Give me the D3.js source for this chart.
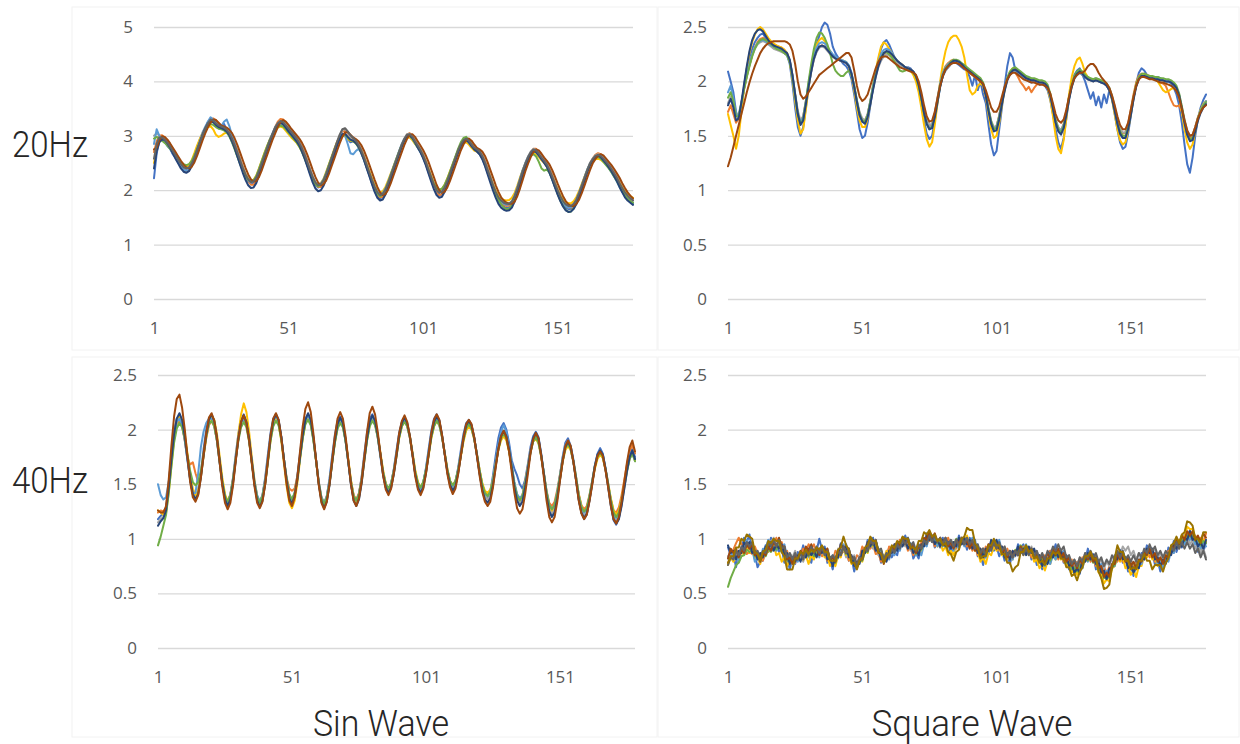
<!DOCTYPE html>
<html>
<head>
<meta charset="utf-8">
<script src="https://cdn.jsdelivr.net/npm/d3@7"></script>
<style>
  body { margin: 0; background: #fff; }
</style>
</head>
<body>
<div id="chart"></div>
<script>
// category axis runs 1..179 (one value per sample)
const N_POINTS = 179;
const xTicks = [1, 51, 101, 151];
const yTicksSin20 = [0, 1, 2, 3, 4, 5];
const yTicksHalf = [0, 0.5, 1, 1.5, 2, 2.5];
const rowLabels = ['20Hz', '40Hz'];
const colLabels = ['Sin Wave', 'Square Wave'];
// Excel default series colours, in series order
const colors = ['#4472C4', '#ED7D31', '#A5A5A5', '#FFC000', '#5B9BD5',
                '#70AD47', '#264478', '#9E480E', '#636363', '#997300'];

// readings, stored in hundredths (262 -> 2.62)
const sin20 = [
  [222,268,291,299,290,281,276,266,259,252, 243,238,236,238,246,259,272,288,301,312,
   325,331,328,320,314,318,322,312,300,289, 278,263,250,236,224,216,212,214,220,232,
   246,259,273,287,300,311,319,323,322,315, 309,302,297,291,283,272,260,246,232,219,
   209,205,207,214,226,240,255,269,284,296, 303,302,294,288,290,287,279,268,256,242,
   228,213,199,189,185,188,197,210,224,238, 252,266,280,292,300,301,295,286,278,270,
   260,248,233,219,205,195,190,193,202,214, 228,242,256,270,282,290,292,287,280,274,
   271,266,258,246,232,218,204,192,181,175, 170,167,169,175,186,201,217,233,247,259,
   268,273,271,265,258,251,243,232,220,207, 195,184,175,168,165,166,171,180,192,206,
   220,234,246,255,261,263,260,255,248,242, 235,227,219,209,200,192,186,180,176],
  [270,290,300,301,297,291,283,274,264,255, 246,240,236,238,245,256,270,285,299,312,
   322,330,332,329,323,318,312,310,306,297, 286,273,258,243,229,217,210,210,216,228,
   243,258,273,288,302,316,326,331,330,324, 316,308,302,296,289,280,268,253,238,223,
   212,206,206,213,225,240,255,270,285,298, 307,310,305,298,294,290,284,275,263,249,
   234,219,205,193,187,188,196,208,222,237, 252,266,280,292,302,305,300,292,283,275,
   266,254,240,225,210,198,191,192,199,211, 226,241,256,270,282,291,296,294,287,280,
   277,273,266,254,240,225,210,197,186,178, 173,171,172,176,185,199,215,231,246,259,
   269,276,276,270,262,256,249,240,228,214, 201,189,179,172,168,168,172,180,192,206,
   221,236,249,258,265,268,266,261,254,248, 241,234,226,216,206,197,190,185,182],
  [300,305,300,294,289,284,277,270,263,255, 248,243,241,244,252,265,279,293,306,316,
   324,329,328,325,320,317,315,311,305,296, 284,270,256,242,230,221,216,217,224,236,
   250,264,278,292,304,316,323,327,325,320, 314,308,302,296,288,278,266,252,238,225,
   215,210,212,219,231,245,259,273,287,300, 310,313,305,298,295,291,284,274,262,248,
   234,220,207,197,192,194,202,214,228,242, 256,270,284,295,303,304,299,291,283,275,
   265,253,239,225,211,201,196,198,206,218, 232,246,260,274,285,293,296,292,285,279,
   276,272,264,252,238,224,210,198,188,182, 178,176,176,180,190,204,220,236,250,262,
   271,276,274,268,261,255,248,238,226,213, 201,190,181,175,172,172,176,184,196,210,
   224,238,250,258,264,266,264,259,253,247, 240,232,224,214,205,197,191,186,182],
  [250,276,290,292,289,284,277,270,263,256, 249,245,243,246,255,268,282,294,304,312,
   316,318,312,302,298,300,304,306,302,293, 281,267,253,240,229,221,217,219,227,240,
   254,268,281,293,302,310,315,317,315,309, 303,297,292,287,280,271,260,247,234,222,
   213,210,213,221,234,248,262,276,289,297, 300,299,294,291,290,287,281,272,261,248,
   235,222,210,200,196,198,206,218,231,244, 257,270,282,291,297,297,292,285,279,272,
   263,252,239,226,213,204,200,202,210,222, 235,248,261,273,282,287,288,284,278,273,
   271,267,260,249,236,223,210,199,190,185, 182,181,182,186,195,208,223,237,249,258,
   265,268,266,261,255,250,244,235,224,212, 201,191,183,178,176,176,180,188,199,212,
   225,237,247,253,257,258,256,252,247,242, 236,229,222,213,205,198,193,189,186],
  [285,312,300,292,288,282,276,268,260,252, 244,238,236,239,248,261,275,290,304,316,
   326,334,330,322,316,318,326,330,318,300, 284,268,253,239,227,218,214,216,224,237,
   251,265,279,292,304,315,322,325,322,316, 310,304,298,292,284,274,262,248,235,222,
   213,209,212,220,232,246,260,274,287,298, 304,300,285,268,266,272,276,270,259,245,
   231,218,206,197,193,195,203,215,229,243, 257,271,284,294,300,300,295,287,279,271,
   262,250,236,222,209,200,196,198,206,218, 232,246,260,273,283,290,292,288,281,276,
   273,269,261,249,235,221,207,195,185,179, 175,173,174,179,190,205,221,237,250,261,
   269,273,270,264,257,251,244,234,222,209, 197,186,177,171,168,169,174,183,196,210,
   224,238,249,256,261,262,259,254,248,241, 233,225,216,206,197,189,183,179,176],
  [295,298,294,291,287,282,276,270,264,258, 252,248,246,248,254,264,276,288,300,310,
   318,322,320,316,313,312,310,306,299,288, 275,261,248,236,226,219,216,218,226,239,
   253,267,280,292,302,310,316,319,317,312, 306,300,294,288,280,270,258,245,232,220,
   211,207,210,218,231,246,260,273,285,295, 301,302,297,292,290,286,279,269,257,243,
   229,215,202,193,189,192,201,214,228,242, 256,269,282,292,299,300,295,287,279,271,
   261,249,236,223,212,204,201,203,210,221, 234,248,262,276,288,296,298,292,283,276,
   272,268,260,248,234,220,206,193,182,174, 168,165,166,172,184,199,216,232,246,257,
   264,266,262,252,240,236,238,232,220,206, 193,181,171,164,160,161,167,177,190,205,
   220,235,247,255,260,261,258,252,246,240, 233,225,217,207,198,190,184,180,177],
  [240,272,288,294,292,286,278,268,258,249, 240,234,232,235,244,257,272,287,301,313,
   322,327,325,320,316,314,312,308,301,290, 277,262,247,232,219,209,204,205,213,227,
   243,258,273,288,301,313,321,324,321,315, 308,302,296,290,282,271,258,243,228,214,
   203,198,200,208,221,236,251,266,281,294, 303,304,298,293,291,287,280,269,256,241,
   226,211,197,186,181,183,192,205,220,235, 250,265,279,291,300,301,296,288,279,270,
   259,246,231,216,202,191,186,188,197,210, 225,240,255,269,281,289,292,288,281,275,
   271,266,257,244,229,214,199,186,175,168, 164,162,163,168,179,194,211,228,243,256,
   266,272,270,264,257,250,243,232,219,205, 192,180,170,163,160,161,166,175,188,203,
   218,233,246,255,261,263,261,255,249,242, 235,226,217,206,196,187,181,177,173],
  [275,278,292,299,298,293,286,278,270,262, 254,247,242,240,243,251,263,277,291,304,
   315,324,330,329,324,319,317,315,311,305, 295,283,269,255,241,229,220,216,217,224,
   236,250,264,278,292,304,316,325,329,326, 320,313,307,301,295,287,277,265,251,237,
   224,214,209,211,218,230,244,258,272,286, 298,306,307,302,297,294,290,283,273,261,
   247,233,219,206,196,191,193,201,213,227, 241,255,269,283,294,302,303,298,290,282,
   274,264,252,238,224,210,200,195,197,205, 217,231,245,259,273,284,292,295,291,284,
   278,275,271,263,251,237,223,209,197,187, 181,177,175,175,179,189,203,219,235,249,
   261,270,275,273,267,260,254,247,237,225, 212,200,189,180,174,171,171,175,183,195,
   209,223,237,249,257,263,266,264,258,252, 246,239,231,223,213,204,196,190,185],
  [258,285,297,297,293,287,280,272,264,256, 248,242,240,242,249,260,274,288,301,313,
   323,330,328,323,319,317,315,311,305,295, 283,269,255,241,229,220,215,216,223,235,
   249,263,277,291,303,315,323,327,325,319, 313,307,301,295,287,277,265,251,237,224,
   214,209,211,218,230,244,259,274,289,302, 312,314,308,301,296,291,283,273,261,247,
   233,219,206,196,191,193,201,213,227,241, 255,269,283,294,302,303,298,290,282,274,
   264,252,238,224,210,200,195,197,205,217, 231,245,259,273,284,292,295,291,284,278,
   275,271,263,251,237,223,209,197,187,181, 177,175,175,179,189,203,219,235,249,261,
   270,275,273,267,260,254,247,237,225,212, 200,189,180,174,171,171,175,183,195,209,
   223,237,249,257,263,265,263,258,252,246, 239,231,223,213,204,196,190,185,181]
];

const square20 = [
  [209,200,190,172,165,176,196,212,222,230, 236,240,243,244,240,236,233,231,230,229,
   228,226,224,216,198,176,158,150,158,176, 194,210,224,234,242,250,254,252,244,232,
   226,222,219,216,214,210,202,188,172,156, 148,150,162,178,194,208,220,230,236,238,
   234,228,222,218,216,214,212,213,212,208, 203,194,180,164,152,147,150,164,180,195,
   205,210,213,216,218,217,215,213,211,210, 204,196,206,192,200,188,180,160,142,132,
   136,156,176,196,214,226,222,210,206,205, 204,202,200,199,200,198,197,198,196,192,
   183,170,156,144,138,148,166,184,197,206, 210,212,206,200,192,184,190,178,186,176,
   188,180,192,184,170,156,144,138,140,152, 168,184,198,208,212,210,206,203,204,203,
   204,203,201,200,200,198,194,188,178,162, 142,124,116,130,150,166,176,183,188],
  [172,178,170,162,166,179,193,205,215,224, 231,236,239,240,238,236,235,234,233,232,
   231,229,226,219,205,188,171,163,168,182, 197,210,221,228,232,233,232,229,226,223,
   221,220,219,218,217,214,206,194,181,170, 165,164,170,182,195,206,215,221,225,227,
   226,224,221,219,217,215,213,212,211,209, 205,197,185,172,163,159,161,171,185,198,
   208,214,217,219,220,219,217,215,212,210, 208,206,204,202,200,196,186,173,162,157,
   159,169,182,193,202,207,209,208,204,199, 196,192,195,190,194,197,199,200,198,195,
   187,176,164,157,155,161,173,186,197,204, 207,208,206,204,202,201,200,201,200,199,
   198,196,192,185,175,164,156,152,153,161, 174,188,199,205,207,207,206,205,204,202,
   201,199,198,196,190,183,178,177,178,172, 162,153,148,150,158,167,173,177,179],
  [180,186,180,170,170,181,194,205,215,224, 230,234,236,237,236,234,232,230,229,228,
   227,226,224,219,206,189,173,164,168,181, 196,209,220,227,231,232,231,228,225,223,
   221,220,219,218,217,214,207,196,183,172, 166,164,170,181,193,204,213,219,223,225,
   224,222,220,217,215,214,213,212,211,209, 205,198,187,174,165,160,161,170,183,196,
   205,210,213,216,218,218,217,215,213,211, 209,207,205,203,201,197,188,175,164,158,
   159,168,181,192,201,206,209,210,208,206, 204,203,202,201,201,200,199,199,198,195,
   188,177,165,158,155,160,171,184,195,203, 207,209,207,205,203,202,202,203,202,201,
   200,198,194,187,177,166,157,153,153,160, 172,185,196,202,205,205,204,203,203,202,
   202,201,201,200,200,199,197,194,188,177, 165,155,150,151,158,167,173,177,180],
  [170,160,150,138,150,172,194,212,226,236, 243,248,250,248,244,240,237,235,233,232,
   231,229,226,218,202,182,164,152,156,174, 194,212,226,234,238,240,237,232,228,224,
   222,221,220,219,218,214,206,192,176,164, 158,158,166,180,196,210,222,232,236,234,
   230,226,222,219,217,215,213,212,210,206, 200,190,176,160,147,140,144,160,180,200,
   216,228,236,240,242,242,238,232,222,206, 192,188,190,196,198,196,186,170,156,148,
   150,162,178,192,203,209,212,212,210,208, 206,204,203,202,202,201,200,200,198,194,
   184,168,150,138,134,146,166,188,204,214, 220,222,216,208,204,202,201,202,201,200,
   199,197,192,183,170,156,146,142,144,155, 170,185,197,204,206,206,205,204,204,202,
   200,196,192,190,191,193,194,192,186,172, 156,144,138,142,154,166,174,179,182],
  [190,196,184,170,168,180,194,206,216,225, 231,235,237,238,237,235,233,232,231,230,
   229,227,225,219,205,187,170,162,167,182, 198,212,224,231,235,236,235,232,228,225,
   223,221,220,219,218,215,208,195,181,169, 163,162,169,182,196,208,218,225,229,230,
   229,226,222,219,217,215,213,212,211,209, 205,197,185,171,161,157,159,170,184,198,
   208,213,216,218,219,219,218,216,214,212, 210,208,206,204,202,198,188,174,162,156,
   158,168,182,194,203,208,210,210,208,206, 204,203,202,201,201,200,199,199,198,195,
   187,175,163,156,154,160,172,185,196,203, 206,208,206,204,202,201,200,201,200,199,
   198,196,192,184,173,161,152,148,149,158, 171,185,196,203,205,205,204,203,203,202,
   202,201,201,200,200,199,197,194,187,175, 162,151,146,148,156,166,173,178,182],
  [185,190,182,168,168,180,193,204,214,223, 230,235,238,239,238,236,234,232,230,229,
   228,226,224,218,204,187,170,161,165,181, 200,216,230,240,245,244,240,234,226,216,
   210,207,205,205,208,210,206,196,182,170, 164,163,169,181,194,206,216,222,226,227,
   225,222,218,214,210,209,210,211,210,208, 204,196,184,171,161,156,158,168,182,196,
   206,212,215,218,220,220,219,217,215,213, 211,209,207,205,203,199,189,175,163,156,
   157,167,181,193,203,209,212,213,211,209, 207,205,204,203,203,202,201,201,200,197,
   189,177,164,156,153,159,171,185,197,205, 209,211,209,206,204,203,202,203,202,201,
   200,198,194,186,175,163,154,150,150,158, 171,185,197,204,207,207,206,205,205,204,
   204,203,203,202,202,201,199,196,189,177, 164,153,147,148,156,166,173,178,181],
  [178,184,176,164,166,181,198,214,228,238, 244,247,248,246,242,238,235,233,232,231,
   230,228,226,220,206,188,170,160,164,179, 195,209,221,228,232,233,232,229,226,223,
   221,220,219,218,217,214,207,195,181,169, 163,161,167,179,192,204,214,221,226,228,
   227,225,222,219,217,215,213,212,211,209, 205,197,185,171,161,156,157,167,181,195,
   205,211,214,217,219,219,218,216,213,211, 209,207,205,203,201,197,187,173,161,154,
   155,165,179,191,201,207,210,211,209,207, 205,203,202,201,201,200,199,199,198,195,
   187,175,162,154,151,157,169,183,195,203, 207,209,207,204,202,201,200,201,200,199,
   198,196,192,184,173,161,152,148,148,156, 169,183,195,202,205,205,204,203,203,202,
   202,201,201,200,200,199,197,194,187,175, 162,151,145,146,154,164,171,176,179],
  [122,130,140,150,160,170,180,190,199,207, 214,220,226,230,233,235,236,237,237,237,
   237,237,236,234,228,216,200,188,184,186, 190,194,198,202,206,208,210,212,214,216,
   218,220,222,224,226,226,222,210,196,186, 182,184,188,196,204,212,218,222,223,223,
   221,219,217,215,213,212,211,210,209,208, 206,200,190,178,168,163,164,172,184,196,
   205,211,214,216,217,217,216,214,212,210, 208,206,204,202,200,198,192,184,176,172,
   172,177,186,195,202,206,208,208,206,204, 202,201,200,199,199,198,197,197,196,194,
   189,180,170,164,162,165,174,186,196,203, 206,208,208,210,214,216,216,213,208,204,
   201,198,194,187,178,168,160,156,156,162, 174,186,196,202,204,204,203,202,202,201,
   200,199,199,198,197,196,194,191,185,175, 164,155,150,151,158,166,172,176,178]
];

const sin40 = [
  [118,121,123,128,150,176,198,210,212,205, 190,172,154,141,137,144,160,182,200,210,
   212,205,190,170,150,137,132,140,156,177, 196,209,214,207,191,170,150,137,132,140,
   156,177,197,210,214,208,193,172,153,139, 134,142,158,178,197,210,214,207,191,171,
   150,136,131,139,155,176,195,208,212,205, 190,170,150,137,133,141,157,178,197,210,
   214,207,193,175,158,147,143,150,164,181, 197,207,211,205,193,176,159,148,144,151,
   165,182,199,210,214,208,194,177,161,150, 146,152,165,181,196,206,209,204,192,176,
   160,146,138,137,143,158,176,192,202,206, 200,188,172,164,158,150,146,154,168,184,
   194,198,193,178,160,141,127,122,127,141, 158,175,188,192,185,171,154,136,124,118,
   122,135,151,167,178,183,178,164,147,130, 117,113,119,133,150,166,177,182,175],
  [124,126,125,128,146,170,192,205,208,203, 190,174,168,170,160,152,160,176,192,204,
   208,203,190,171,152,139,134,141,155,174, 192,205,210,204,190,171,152,139,134,140,
   154,173,192,205,210,205,192,173,156,146, 144,146,157,175,193,206,211,205,191,172,
   152,138,133,139,152,171,189,202,207,203, 190,172,153,140,136,142,156,175,193,205,
   210,205,193,177,161,150,146,151,163,178, 194,204,208,203,192,177,161,151,147,152,
   163,178,194,204,208,204,193,178,163,153, 149,153,163,177,191,201,205,201,192,178,
   163,150,142,140,144,154,169,183,193,197, 192,181,166,150,140,136,140,152,166,181,
   191,194,189,176,160,144,133,130,134,145, 159,173,184,187,182,171,156,141,131,127,
   130,140,153,166,175,178,174,163,149,136, 126,124,129,140,154,168,180,186,178],
  [115,118,120,125,146,172,195,209,213,207, 193,174,155,142,138,144,158,177,195,208,
   212,206,192,172,152,138,132,138,152,172, 191,205,211,205,191,171,151,137,131,137,
   151,171,192,206,212,207,193,173,154,139, 134,140,154,174,193,207,213,207,192,172,
   151,136,130,136,150,170,189,203,209,204, 190,171,151,137,132,138,152,172,191,205,
   211,206,194,177,160,148,143,148,160,176, 193,204,209,204,193,177,160,149,144,149,
   161,177,194,205,210,206,194,178,162,151, 146,150,161,176,191,202,206,202,192,177,
   161,147,139,136,140,151,167,182,193,197, 192,181,165,148,137,132,136,148,163,179,
   190,194,189,176,159,141,128,123,127,139, 155,171,183,187,182,170,154,137,126,121,
   125,136,150,165,175,179,175,163,148,132, 120,116,120,131,146,161,173,179,171],
  [126,124,122,124,142,167,191,206,212,208, 196,178,160,146,140,144,157,175,193,207,
   213,209,196,176,156,141,134,139,153,174, 196,214,224,216,198,175,154,139,132,137,
   150,169,190,204,210,205,190,169,148,133, 128,135,151,172,192,206,212,206,191,171,
   151,136,130,136,150,169,188,202,208,204, 191,173,154,140,134,139,152,171,190,204,
   210,206,195,179,163,151,145,149,160,175, 192,203,208,204,194,179,163,152,147,151,
   161,176,192,203,208,205,194,179,164,153, 148,151,161,175,189,199,203,200,191,177,
   163,151,144,142,145,154,168,181,190,194, 190,180,165,150,140,136,140,151,165,180,
   189,192,187,175,159,142,130,126,130,141, 155,170,181,185,181,171,157,141,130,125,
   128,138,151,164,173,177,174,164,151,137, 126,122,126,136,150,163,174,179,172],
  [150,140,136,138,152,174,195,207,210,204, 191,172,154,142,142,160,184,198,206,210,
   210,204,190,170,151,138,133,140,154,174, 193,206,211,205,191,172,153,140,134,140,
   154,174,194,208,213,207,193,173,154,140, 136,142,156,176,195,208,213,207,192,172,
   152,138,133,139,153,173,192,205,210,204, 190,171,152,139,135,141,155,175,194,207,
   212,206,194,177,161,150,146,151,163,179, 196,206,210,204,193,177,160,150,146,152,
   164,180,197,207,211,206,194,178,162,152, 148,152,163,178,193,203,206,202,192,177,
   161,148,141,139,143,154,170,186,198,204, 198,185,168,152,141,137,140,151,165,180,
   190,194,189,176,160,143,131,127,131,143, 158,174,186,190,185,173,157,140,129,124,
   127,138,152,167,177,181,177,165,150,134, 122,119,123,134,149,164,176,181,173],
  [94,102,112,122,142,166,188,201,206,202, 192,176,162,152,149,152,162,178,194,205,
   208,203,190,171,152,139,134,140,154,173, 190,202,207,202,189,170,151,138,133,139,
   152,171,190,203,208,204,191,173,155,141, 136,142,155,174,192,205,209,204,190,171,
   151,137,132,138,151,170,188,201,206,202, 189,171,152,139,135,141,154,173,190,203,
   208,204,193,177,161,150,146,151,162,177, 193,203,207,203,193,177,161,151,147,152,
   163,178,193,203,208,204,193,178,163,153, 149,153,163,177,191,201,205,201,192,178,
   163,150,142,139,143,153,168,182,192,196, 192,181,166,150,139,135,139,150,164,179,
   189,193,188,176,160,143,131,127,131,142, 157,172,183,187,182,171,156,140,129,125,
   128,139,152,166,175,179,175,164,150,135, 124,120,124,134,148,162,173,178,171],
  [112,116,119,126,147,173,196,210,215,209, 194,174,155,141,136,141,156,176,195,209,
   214,208,193,172,151,136,130,136,151,172, 192,207,213,207,192,171,150,135,129,135,
   150,171,193,208,214,209,194,173,153,137, 132,139,154,175,195,209,215,209,193,172,
   150,134,128,134,149,170,190,205,211,206, 191,171,150,135,130,136,151,172,192,207,
   213,208,195,177,159,147,142,147,159,176, 194,206,211,206,194,177,159,147,142,147,
   160,177,195,207,212,208,195,178,161,149, 144,148,160,176,192,204,208,204,193,177,
   160,145,136,133,137,149,166,182,194,199, 194,182,165,147,135,130,134,147,163,180,
   192,197,192,177,159,139,125,120,124,137, 154,171,184,189,184,171,154,136,124,119,
   123,135,150,166,177,181,177,164,148,131, 118,114,118,130,146,162,175,181,173],
  [126,124,124,130,154,185,212,228,232,220, 200,175,152,138,134,140,156,177,197,211,
   215,208,192,170,148,133,127,133,149,171, 192,207,213,206,190,169,148,133,128,134,
   150,172,195,210,215,209,193,171,150,135, 130,138,156,180,203,219,225,216,196,172,
   149,133,127,134,150,172,194,210,216,210, 194,172,150,135,130,137,153,175,198,215,
   221,214,198,178,158,145,140,146,160,178, 197,208,213,207,194,176,157,145,140,146,
   160,178,197,209,214,209,195,177,159,147, 141,146,159,176,193,205,209,205,193,176,
   158,143,134,130,134,147,165,182,194,199, 193,180,161,142,128,123,127,141,159,178,
   191,197,192,176,156,135,120,115,120,134, 153,171,185,190,185,171,153,135,123,118,
   122,134,149,165,176,180,176,163,147,130, 118,114,120,134,152,170,184,190,180]
];

const square40 = [
  [92,85,86,74,88,90,101,97,104,88, 86,74,79,80,94,90,101,91,93,88,
   91,78,83,72,82,77,88,84,94,84, 87,78,90,89,100,90,93,78,81,72,
   84,82,96,91,95,80,83,70,79,80, 91,87,99,97,101,88,90,78,83,80,
   92,83,88,85,97,94,103,95,96,82, 87,82,95,94,105,99,103,92,97,92,
   101,92,96,86,95,92,103,95,99,90, 101,96,99,84,86,76,88,86,97,89,
   93,84,90,80,85,77,88,84,95,91, 95,86,92,81,87,76,82,72,82,78,
   89,86,95,86,90,78,82,72,77,68, 73,68,82,80,91,82,86,72,76,64,
   70,62,74,72,85,82,90,78,82,70, 76,66,76,74,87,84,94,84,88,76,
   80,70,80,78,92,88,98,88,95,92, 104,98,108,96,100,88,94,88,97],
  [78,84,90,96,101,95,94,86,88,86, 93,86,86,80,88,88,97,94,101,94,
   97,88,89,80,83,78,85,84,91,88, 95,91,95,87,91,84,87,80,83,80,
   89,87,95,88,89,80,83,77,85,83, 93,89,97,91,95,86,87,79,85,83,
   93,89,95,91,99,94,97,89,93,85, 91,87,97,95,103,98,101,93,99,93,
   99,95,101,93,97,91,99,95,101,93, 97,89,93,85,91,85,93,89,95,91,
   97,89,93,85,91,83,89,85,91,87, 93,87,91,83,87,81,85,79,85,81,
   89,83,89,81,87,79,83,75,81,73, 79,75,83,79,85,79,83,75,79,71,
   75,67,75,73,83,79,85,79,83,75, 81,73,79,75,85,81,89,83,87,79,
   83,77,83,79,89,87,95,91,99,95, 103,99,107,99,103,95,101,97,105],
  [84,88,86,89,82,88,87,96,93,97, 87,89,81,89,89,99,97,101,93,97,
   87,89,81,87,83,89,81,85,79,87, 83,91,87,93,85,91,87,91,81,85,
   81,91,87,91,83,87,79,85,77,85, 81,91,89,97,91,95,85,89,81,87,
   83,91,87,95,91,99,93,97,89,93, 87,93,89,99,95,103,97,101,95,101,
   95,99,93,99,93,99,95,101,95,101, 93,97,89,93,85,91,87,95,91,97,
   91,95,87,93,85,89,83,89,85,93, 87,93,87,93,85,89,81,85,79,87,
   81,89,85,91,85,89,81,85,77,81, 75,83,79,87,83,89,81,85,77,81,
   73,79,75,83,81,89,85,93,89,93, 85,89,81,87,81,89,85,93,87,91,
   83,87,81,87,83,91,87,95,91,99, 95,103,95,99,91,95,87,91,83],
  [76,83,79,84,79,89,85,93,87,91, 81,83,77,87,85,95,91,95,85,87,
   79,83,75,81,77,85,81,87,81,85, 77,85,81,89,85,91,83,85,75,79,
   75,85,83,93,85,87,77,81,73,81, 79,89,87,97,93,97,87,89,81,89,
   85,93,89,97,93,101,95,99,91,95, 87,91,87,97,95,103,97,101,93,97,
   89,93,85,89,85,95,93,101,97,103, 95,99,89,89,79,83,77,87,85,93,
   89,93,85,89,81,87,81,89,85,91, 85,91,85,89,79,81,73,77,71,79,
   77,87,81,87,81,85,75,77,69,73, 67,75,73,83,81,87,79,81,69,69,
   59,63,61,73,75,85,79,83,73,75, 67,71,65,75,75,85,83,89,81,83,
   75,79,75,85,83,93,91,99,95,103, 101,111,109,109,97,99,91,99,97],
  [82,89,81,83,79,91,91,99,91,91, 79,83,79,91,91,99,91,93,89,99,
   93,95,83,85,77,83,79,87,83,91, 87,93,85,89,83,91,85,89,81,85,
   79,87,85,95,89,91,81,83,75,83, 81,91,89,99,95,99,89,89,79,85,
   81,89,85,93,89,99,95,101,93,95, 85,89,85,95,93,103,97,101,93,99,
   93,99,93,97,89,95,91,99,93,99, 95,101,93,95,85,89,83,91,89,99,
   95,99,89,91,83,87,81,89,85,93, 89,95,87,91,83,87,79,83,75,81,
   77,85,81,89,85,89,81,83,75,79, 71,77,73,83,79,87,81,85,75,77,
   67,71,67,77,75,85,83,89,81,83, 75,79,73,81,77,87,85,93,85,87,
   77,81,73,81,79,89,87,97,93,99, 95,103,99,103,95,99,91,97,93],
  [56,64,70,76,78,84,85,90,88,90, 84,86,80,86,84,90,88,92,90,94,
   88,88,80,82,78,84,82,88,84,88, 84,88,84,88,86,92,88,90,82,82,
   78,86,86,92,86,88,80,80,74,80, 80,88,88,96,94,98,90,90,82,86,
   84,90,88,94,94,100,98,100,92,92, 86,90,90,98,98,104,100,102,96,98,
   94,98,94,98,94,100,96,100,96,98, 94,96,90,90,84,88,86,94,92,96,
   92,94,88,90,84,88,84,90,88,94, 90,94,88,90,84,86,80,82,78,82,
   80,86,84,88,82,84,78,78,72,74, 70,76,76,82,80,84,78,80,72,72,
   64,66,64,74,76,84,82,86,80,82, 76,78,74,80,80,88,86,90,84,86,
   80,82,78,84,84,92,92,98,94,100, 98,104,102,104,98,100,94,98,96],
  [94,87,89,81,89,87,97,93,97,87, 89,81,87,83,93,91,97,89,95,91,
   95,85,87,77,83,79,85,79,87,83, 91,85,89,83,91,87,91,81,83,75,
   83,83,95,91,93,83,85,75,79,77, 89,87,97,93,99,89,91,81,83,79,
   89,87,95,89,97,93,99,91,95,87, 91,85,95,93,103,99,103,95,99,93,
   99,93,97,91,97,93,101,95,101,95, 99,91,95,87,91,83,91,89,99,95,
   99,91,93,83,87,81,89,85,93,87, 91,85,93,87,91,83,85,75,81,77,
   87,83,89,83,89,81,85,75,77,69, 73,69,81,79,87,81,85,77,79,69,
   71,63,73,73,83,81,89,81,83,73, 77,69,75,73,83,81,91,87,91,81,
   83,75,81,77,87,85,95,91,97,93, 101,99,107,99,101,93,97,91,99],
  [82,91,87,91,83,91,87,95,91,95, 85,87,79,87,85,93,89,97,93,101,
   93,93,81,83,77,85,81,89,85,93, 89,95,87,91,85,93,87,91,81,83,
   79,89,85,93,87,91,81,83,75,83, 81,91,89,99,95,99,87,87,77,85,
   83,93,89,97,93,101,95,99,91,95, 87,93,91,101,99,107,101,105,97,101,
   95,101,93,97,91,99,95,101,95,99, 91,97,89,93,85,91,87,95,91,97,
   91,95,87,91,83,89,83,89,85,93, 87,93,87,91,83,87,81,85,79,87,
   83,91,85,91,83,87,79,83,75,79, 73,81,77,85,81,87,79,83,73,75,
   65,69,65,77,77,87,81,87,79,83, 75,79,73,81,79,89,85,91,83,87,
   79,83,77,85,83,93,91,99,95,103, 99,107,103,107,99,103,97,105,101],
  [76,83,81,89,85,93,89,97,93,97, 87,89,81,89,87,97,93,99,93,99,
   91,93,83,87,81,87,81,87,81,89, 85,93,87,93,87,93,85,89,81,85,
   81,89,85,93,87,91,81,83,75,83, 81,91,89,99,95,99,89,91,81,87,
   83,91,87,95,91,99,95,101,93,97, 89,95,91,99,95,103,97,103,97,101,
   95,101,95,99,93,99,93,101,95,101, 95,99,91,95,87,91,85,93,89,97,
   91,97,89,93,85,89,83,89,85,91, 85,91,85,91,83,89,81,87,81,89,
   85,93,89,95,89,93,83,85,77,81, 75,83,79,87,83,89,83,87,79,83,
   75,81,77,85,81,89,83,89,81,85, 79,85,79,87,83,91,87,95,89,93,
   85,89,83,89,85,93,89,97,91,97, 91,97,91,95,87,91,83,89,81],
  [78,84,84,92,92,100,98,104,102,100, 88,86,80,88,90,98,96,100,98,98,
   88,84,72,72,72,82,82,88,86,90, 86,90,88,92,90,94,88,88,80,80,
   80,90,92,102,94,90,78,78,72,80, 82,92,94,102,98,98,88,86,78,84,
   86,94,92,98,96,102,100,100,92,92, 90,98,98,106,104,108,102,104,98,100,
   94,96,88,86,80,88,90,100,102,110, 108,108,96,92,82,84,84,94,94,100,
   94,94,86,86,78,78,70,74,76,88, 88,94,88,90,82,84,78,80,76,82,
   82,88,86,88,82,82,74,74,66,68, 62,70,74,84,84,88,82,82,70,64,
   54,55,58,74,82,94,88,88,80,80, 72,74,72,80,80,86,80,80,72,76,
   76,76,70,78,82,94,96,102,96,104, 106,116,115,112,100,100,96,106,106]
];

const svg = d3.select('#chart').append('svg')
  .attr('width', 1240)
  .attr('height', 744)
  .style('background-color', '#fff');

// plot areas
const panels = [
  {data: sin20, yMax: 5, ticks: yTicksSin20, left: 154, right: 633, top: 27, bottom: 299,
   frame: [72, 7, 585, 343]},
  {data: square20, yMax: 2.5, ticks: yTicksHalf, left: 728, right: 1206, top: 27, bottom: 299,
   frame: [658, 7, 581, 343]},
  {data: sin40, yMax: 2.5, ticks: yTicksHalf, left: 158, right: 635, top: 375, bottom: 648,
   frame: [72, 357, 585, 380]},
  {data: square40, yMax: 2.5, ticks: yTicksHalf, left: 728, right: 1206, top: 375, bottom: 648,
   frame: [658, 357, 581, 380]}
];

const tickFont = '17px "Open Sans", "Liberation Sans", sans-serif';

panels.forEach(p => {
  const x = d3.scaleLinear().domain([1, N_POINTS]).range([p.left, p.right]);
  const y = d3.scaleLinear().domain([0, p.yMax]).range([p.bottom, p.top]);
  const g = svg.append('g');

  g.append('rect')
    .attr('x', p.frame[0]).attr('y', p.frame[1])
    .attr('width', p.frame[2]).attr('height', p.frame[3])
    .attr('fill', 'none')
    .attr('stroke', '#f2f2f2');

  // y axis with gridlines
  g.append('g')
    .attr('transform', 'translate(' + p.left + ' 0)')
    .call(d3.axisLeft(y).tickValues(p.ticks).tickSize(-(p.right - p.left))
      .tickPadding(21).tickFormat(d => String(d)))
    .call(a => a.select('.domain').remove())
    .call(a => a.selectAll('.tick line').attr('stroke', '#d9d9d9').attr('stroke-width', 1.3))
    .call(a => a.selectAll('.tick text').attr('fill', '#595959').style('font', tickFont));

  // category labels
  g.append('g')
    .attr('transform', 'translate(0 ' + p.bottom + ')')
    .call(d3.axisBottom(x).tickValues(xTicks).tickSize(0).tickPadding(23)
      .tickFormat(d => String(d)))
    .call(a => a.select('.domain').remove())
    .call(a => a.selectAll('.tick text').attr('fill', '#595959').style('font', tickFont));

  const line = d3.line()
    .x((d, i) => x(i + 1))
    .y(d => y(d / 100));

  g.append('g').selectAll('path')
    .data(p.data)
    .join('path')
      .attr('d', line)
      .attr('fill', 'none')
      .attr('stroke', (d, i) => colors[i])
      .attr('stroke-width', 2)
      .attr('stroke-linejoin', 'round')
      .attr('stroke-linecap', 'round');
});

const labelFont = '"Roboto", "Noto Sans", sans-serif';

svg.selectAll('text.row')
  .data(rowLabels)
  .join('text')
    .attr('class', 'row')
    .attr('x', 12)
    .attr('y', (d, i) => [157, 493][i])
    .attr('textLength', 76)
    .attr('lengthAdjust', 'spacingAndGlyphs')
    .style('font-family', labelFont)
    .style('font-weight', 300)
    .style('font-size', '36px')
    .attr('fill', '#262626')
    .text(d => d);

svg.selectAll('text.col')
  .data(colLabels)
  .join('text')
    .attr('class', 'col')
    .attr('x', (d, i) => [381, 972][i])
    .attr('y', 736)
    .attr('text-anchor', 'middle')
    .attr('textLength', (d, i) => [136, 201][i])
    .attr('lengthAdjust', 'spacingAndGlyphs')
    .style('font-family', labelFont)
    .style('font-weight', 300)
    .style('font-size', '36px')
    .attr('fill', '#262626')
    .text(d => d);
</script>
</body>
</html>
